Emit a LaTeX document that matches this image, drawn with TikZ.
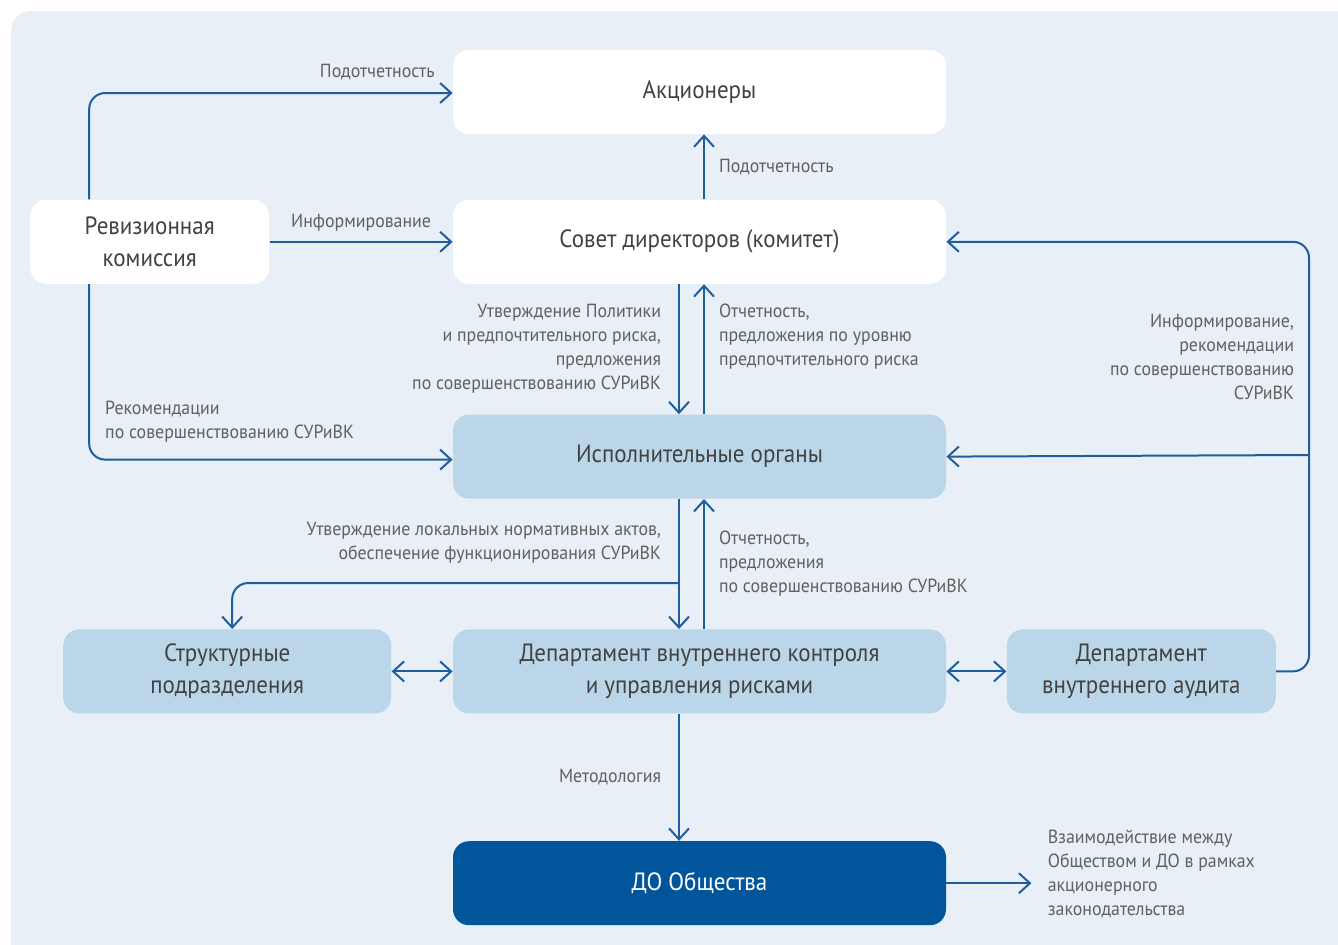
\documentclass[tikz,border=0pt]{standalone}
\usepackage{fontspec}
\setmainfont[FakeStretch=0.92]{PT Sans}
\newfontfamily\lblfont[FakeStretch=0.94]{PT Sans}
\usepackage{xcolor}
\usetikzlibrary{arrows.meta,positioning,calc}
\definecolor{panel}{HTML}{E8EFF7}
\definecolor{paleblue}{HTML}{BAD6E8}
\definecolor{deepblue}{HTML}{00559B}
\definecolor{linkblue}{HTML}{1F5E9E}
\definecolor{boxtext}{HTML}{424242}
\definecolor{lbltext}{HTML}{606060}

\begin{document}
\begin{tikzpicture}[x=0.5pt, y=-0.5pt,
  box/.style={rounded corners=8pt, minimum width=246.5pt, minimum height=42pt,
              inner sep=0pt, align=center, text=boxtext,
              font=\fontsize{12.5}{16}\selectfont},
  white box/.style={box, fill=white},
  pale box/.style={box, fill=paleblue},
  lbl/.style={inner sep=0pt, text=lbltext, font=\lblfont\fontsize{9.5}{12}\selectfont},
  arr/.style={-{Straight Barb[length=5.5pt, width=10pt]}, linkblue, line width=1pt},
  dbl/.style={{Straight Barb[length=5.5pt, width=10pt]}-{Straight Barb[length=5.5pt, width=10pt]},
              linkblue, line width=1pt},
  wire/.style={linkblue, line width=1pt}
]
\fill[white] (0,0) rectangle (1338,944);
\useasboundingbox (0,0) rectangle (1338,944);
\fill[panel, rounded corners=10pt] (11,11) rectangle (1380,990);

\node[white box] (akc) at (699.5,92) {Акционеры};
\node[white box, below=32.5pt of akc] (sovet) {Совет директоров (комитет)};
\node[white box, minimum width=119.5pt, left=91.5pt of sovet] (rev) {Ревизионная\\комиссия};
\node[pale box, below=65pt of sovet] (isp) {Исполнительные органы};
\node[pale box, below=65pt of isp] (dep) {Департамент внутреннего контроля\\и управления рисками};
\node[pale box, minimum width=164pt, left=30.5pt of dep] (struct) {Структурные\\подразделения};
\node[pale box, minimum width=134.5pt, right=30pt of dep] (audit) {Департамент\\внутреннего аудита};
\node[box, fill=deepblue, text=white, below=63.5pt of dep] (dochk) {ДО Общества};

% Ревизионная комиссия
\draw[arr, rounded corners=8pt] ([xshift=-30.25pt]rev.north) |-
  node[lbl, pos=1, above left=6pt and 8.5pt] (l1) {Подотчетность} ([yshift=-0.5pt]akc.west);
\draw[arr] (rev.east) -- node[lbl, above=5pt] (l2) {Информирование} (sovet.west);
\draw[arr, rounded corners=8pt] ([xshift=-30.25pt]rev.south) |-
  node[lbl, pos=0.5, above right=8pt and 7.5pt, align=left] (l3)
  {Рекомендации\\по совершенствованию СУРиВК} ([yshift=-1.5pt]isp.west);

% vertical links
\draw[arr] ([xshift=2.25pt]sovet.north) -- node[lbl, right=7pt] (l4) {Подотчетность} ([xshift=2.25pt]akc.south);
\draw[arr] ([xshift=-10.25pt]sovet.south) -- node[lbl, left=8.5pt, align=right] (l5)
  {Утверждение Политики\\и предпочтительного риска,\\предложения\\по совершенствованию СУРиВК}
  ([xshift=-10.25pt]isp.north);
\draw[arr] ([xshift=2.25pt]isp.north) -- node[lbl, pos=0.6, right=7pt, align=left] (l6)
  {Отчетность,\\предложения по уровню\\предпочтительного риска} ([xshift=2.25pt]sovet.south);
\draw[arr] ([xshift=-10.25pt]isp.south) -- node[lbl, pos=0.34, left=8.5pt, align=right] (l7)
  {Утверждение локальных нормативных актов,\\обеспечение функционирования СУРиВК}
  ([xshift=-10.25pt]dep.north);
\coordinate (split) at (679,583);
\draw[arr, rounded corners=8pt] (split) -| ([xshift=2.5pt]struct.north);
\draw[arr] ([xshift=2.25pt]dep.north) -- node[lbl, right=7pt, align=left] (l8)
  {Отчетность,\\предложения\\по совершенствованию СУРиВК} ([xshift=2.25pt]isp.south);

\draw[dbl] (struct) -- (dep);
\draw[dbl] (dep) -- (audit);

% внутренний аудит
\coordinate (rail) at (1309,455);
\draw[wire, rounded corners=8pt] (audit.east) -| (rail);
\draw[arr, rounded corners=8pt] (rail) |- node[lbl, pos=0.23, left=7pt, align=right] (l9)
  {Информирование,\\рекомендации\\по совершенствованию\\СУРиВК} (sovet.east);
\draw[arr] (rail) -- (isp.east);

% ДО
\draw[arr] ([xshift=-10.25pt]dep.south) -- node[lbl, left=8.5pt] (l10) {Методология}
  ([xshift=-10.25pt]dochk.north);
\coordinate[right=42.5pt of dochk] (doout);
\draw[arr] (dochk) -- (doout);
\node[lbl, align=left, right=8pt of doout, yshift=4.5pt] (l11)
  {Взаимодействие между\\Обществом и ДО в рамках\\акционерного\\законодательства};
\end{tikzpicture}
\end{document}
